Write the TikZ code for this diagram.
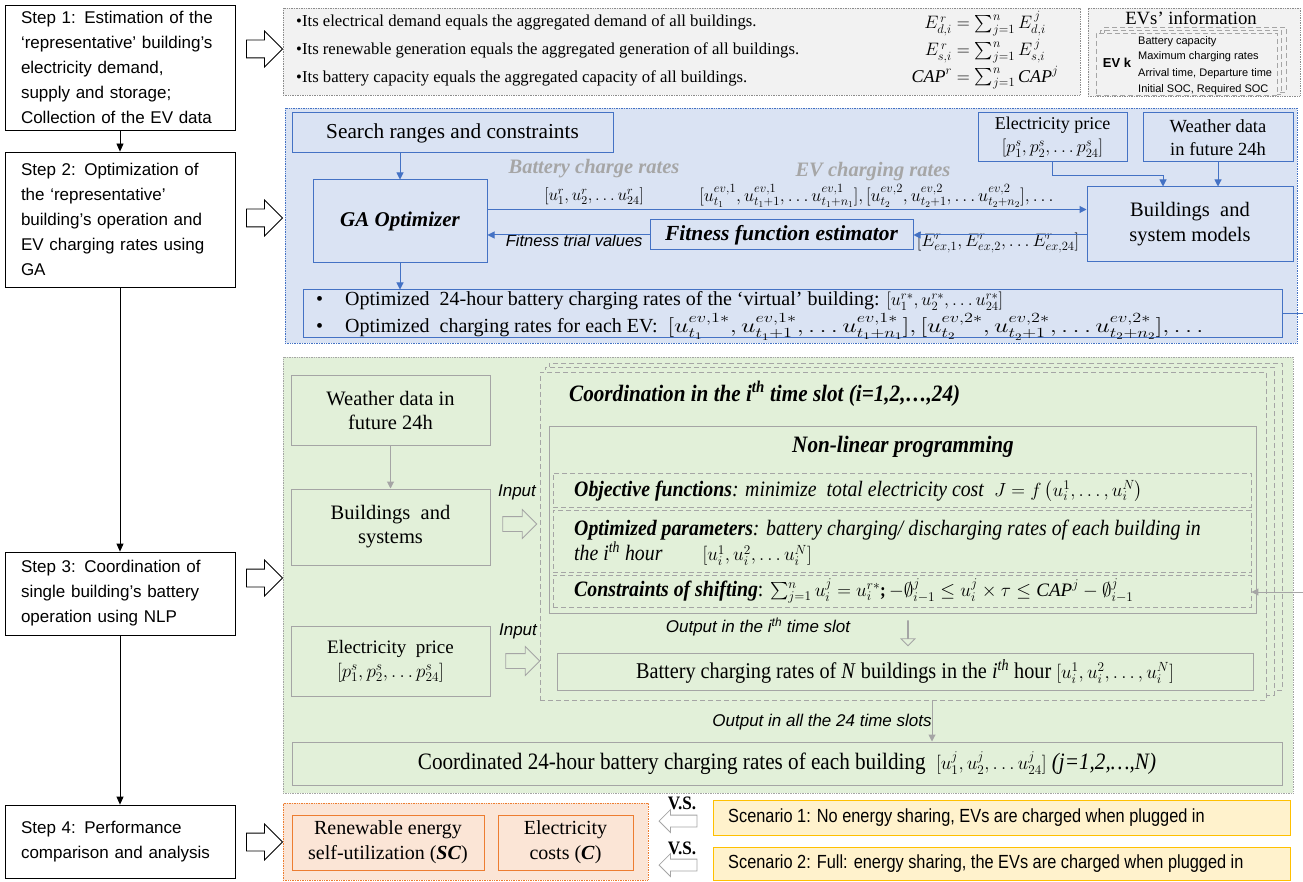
\RequirePackage{fix-cm}
\documentclass[tikz,border=0pt]{standalone}
\usepackage{amsmath}
\usepackage{graphicx}
\usepackage{fontspec}
\setmainfont{Liberation Serif}
\newfontfamily\arial{Liberation Sans}
\newfontfamily\condserif[FakeStretch=0.9]{Liberation Serif}
\newfontfamily\condsans[FakeStretch=0.86]{Liberation Sans}
\usetikzlibrary{arrows.meta,shapes.arrows,calc}
\definecolor{bborder}{HTML}{4472C4}
\definecolor{bfill}{HTML}{DAE3F3}
\definecolor{gfill}{HTML}{E2F0D9}
\definecolor{gborder}{HTML}{A5A5A5}
\definecolor{ofill}{HTML}{FBE5D6}
\definecolor{oborder}{HTML}{ED7D31}
\definecolor{yfill}{HTML}{FFF2CC}
\definecolor{yborder}{HTML}{FFC000}
\definecolor{tfill}{HTML}{F2F2F2}
\definecolor{dotgray}{HTML}{8C8C8C}
\definecolor{lblgray}{HTML}{A6A6A6}
\newcommand\fsz[2]{\fontsize{#1}{#2}\selectfont}
\newcommand\mybox[7]{\node[#2, minimum width={#5-#3}, minimum height={#6-#4}] (#1) at ({(#3+#5)/2},{(#4+#6)/2}) {#7};}
\begin{document}
\begin{tikzpicture}[x=1pt,y=-1pt,
  region/.style={densely dotted, line width=0.7pt},
  stepbox/.style={draw=black, line width=0.8pt, fill=white, align=left, text width=198pt, inner xsep=0pt, font=\arial\fsz{17}{25}},
  bigarrow/.style={single arrow, draw=black, line width=0.8pt, fill=white, minimum height=36pt, inner xsep=0pt, inner ysep=8.5pt, single arrow head extend=9pt},
  hollow/.style={single arrow, draw=gborder, line width=0.8pt, fill=gfill, inner xsep=0pt},
  bluebox/.style={draw=bborder, line width=1pt, fill=bfill, align=center, font=\fsz{19}{24}},
  greenbox/.style={draw=gborder, line width=1pt, fill=gfill, align=center, font=\fsz{19}{24}},
  dashbox/.style={draw=gborder, dash pattern=on 5pt off 3pt, line width=0.9pt},
  orangebox/.style={draw=oborder, line width=1pt, fill=ofill, align=center, font=\fsz{20}{25}},
  yellowbox/.style={draw=yborder, line width=1pt, fill=yfill},
  blk/.style={-{Triangle[length=8pt,width=7pt]}, line width=0.8pt},
  blu/.style={-{Triangle[length=7pt,width=7pt]}, draw=bborder, line width=1pt},
  gry/.style={-{Triangle[length=7pt,width=7pt]}, draw=gborder, line width=1pt},
  txt/.style={inner sep=0pt},
]
\useasboundingbox (0,0) rectangle (1303,882);
% ---------- left column
\mybox{s1}{stepbox}{5}{5}{235}{130}{Step 1: Estimation of the\\‘representative’ building’s\\electricity demand,\\supply and storage;\\Collection of the EV data}
\mybox{s2}{stepbox}{5}{152}{235}{287}{Step 2: Optimization of\\the ‘representative’\\building’s operation and\\EV charging rates using\\GA}
\mybox{s3}{stepbox}{5}{552}{235}{635}{Step 3: Coordination of\\single building’s battery\\operation using NLP}
\mybox{s4}{stepbox}{5}{805}{235}{878}{Step 4: Performance\\comparison and analysis}
\draw[blk] (s1) -- (s2);
\draw[blk] (s2) -- (s3);
\draw[blk] (s3) -- (s4);
\node[bigarrow] (a1) at (260,49) {};
\node[bigarrow] (a2) at (260,218) {};
\node[bigarrow] (a3) at (260,578) {};
\node[bigarrow] (a4) at (260,842) {};
% ---------- step 1 region
\mybox{top}{region, draw=dotgray, fill=tfill}{283}{8}{1080}{95}{}
\node[txt, anchor=west, font=\fsz{16.7}{20}] (b1) at (296,22) {•Its electrical demand equals the aggregated demand of all buildings.};
\node[txt, anchor=west, font=\fsz{16.7}{20}] (b2) at (296,50) {•Its renewable generation equals the aggregated generation of all buildings.};
\node[txt, anchor=west, font=\fsz{16.7}{20}] (b3) at (296,78) {•Its battery capacity equals the aggregated capacity of all buildings.};
\node[txt, font=\fsz{18}{20}] (f1) at (985,24) {$E_{d,i}^{\,r}=\sum_{j=1}^{n}E_{d,i}^{\,j}$};
\node[txt, font=\fsz{18}{20}] (f2) at (985,51) {$E_{s,i}^{\,r}=\sum_{j=1}^{n}E_{s,i}^{\,j}$};
\node[txt, font=\fsz{18}{20}] (f3) at (985,78) {$\mathit{CAP}^{r}=\sum_{j=1}^{n}\mathit{CAP}^{j}$};
\mybox{ev}{region, draw=dotgray, fill=tfill}{1088}{8}{1300}{96}{}
\node[font=\fsz{18.7}{20}] (evt) at (1191,18) {EVs’ information};
\mybox{c3}{dashbox}{1104}{27}{1286}{92}{}
\mybox{c2}{dashbox}{1100}{30}{1281}{94}{}
\mybox{c1}{dashbox, fill=tfill}{1096}{33}{1277}{95}{}
\node[font=\arial\bfseries\fsz{13}{15}] (evk) at (1117,63) {EV k};
\node[txt, anchor=west, font=\arial\fsz{11}{12}] (e1) at (1138,42) {Battery capacity};
\node[txt, anchor=west, font=\arial\fsz{11}{12}] (e2) at (1138,57) {Maximum charging rates};
\node[txt, anchor=west, font=\arial\fsz{11}{12}] (e3) at (1138,74) {Arrival time, Departure time};
\node[txt, anchor=west, font=\arial\fsz{11}{12}] (e4) at (1138,90) {Initial SOC, Required SOC};
% ---------- step 2 region
\mybox{s2r}{region, draw=bborder, fill=bfill}{285}{108}{1297}{343}{}
\mybox{search}{bluebox, font=\fsz{21.3}{24}}{292}{113}{613}{153}{Search ranges and constraints}
\mybox{ga}{bluebox, font=\bfseries\itshape\fsz{21}{24}}{313}{180}{487}{263}{GA Optimizer}
\mybox{fitn}{bluebox, font=\bfseries\itshape\fsz{21.5}{24}}{650}{220}{913}{250}{Fitness function estimator}
\mybox{price}{bluebox, font=\fsz{18}{23}}{978}{113}{1127}{162}{Electricity price\\$[p_1^s,p_2^s,\dots p_{24}^s]$}
\mybox{wth}{bluebox, font=\fsz{18.5}{23}}{1143}{113}{1293}{162}{Weather data\\in future 24h}
\mybox{bld}{bluebox, font=\fsz{20.5}{25}}{1087}{187}{1293}{262}{Buildings\ \ and\\system models}
\mybox{out}{bluebox}{303}{290}{1282}{338}{}
\node[txt, anchor=west, font=\fsz{20}{22}] (o1) at (316,301) {•\hspace{22pt}Optimized\ \ 24-hour battery charging rates of the ‘virtual’ building: {\fsz{18}{22}$[u_1^{r*},u_2^{r*},\dots u_{24}^{r*}]$}};
\node[txt, anchor=west, font=\fsz{20}{22}] (o2) at (316,327) {•\hspace{22pt}Optimized\ \ charging rates for each EV:\ \ {\fsz{20}{22}\scalebox{1.3}[1]{$[u_{t_1}^{ev,1*},u_{t_1+1}^{ev,1*},\dots u_{t_1+n_1}^{ev,1*}],[u_{t_2}^{ev,2*},u_{t_2+1}^{ev,2*},\dots u_{t_2+n_2}^{ev,2*}],\dots$}}};
\node[font=\bfseries\itshape\fsz{20.5}{22}, text=lblgray] (l1) at (594,169) {Battery charge rates};
\node[font=\fsz{17}{20}] (l2) at (594,196) {$[u_1^r,u_2^r,\dots u_{24}^r]$};
\node[font=\bfseries\itshape\fsz{20.5}{22}, text=lblgray] (l3) at (873,172) {EV charging rates};
\node[font=\fsz{18}{20}] (l4) at (878,196) {$[u_{t_1}^{ev,1},u_{t_1+1}^{ev,1},\dots u_{t_1+n_1}^{ev,1}],[u_{t_2}^{ev,2},u_{t_2+1}^{ev,2},\dots u_{t_2+n_2}^{ev,2}],\dots$};
\node[font=\arial\itshape\fsz{16.5}{18}, anchor=east] (l5) at (646,241) {Fitness trial values};
\node[font=\fsz{18}{20}] (l6) at (998,243) {$[E_{ex,1}^r,E_{ex,2}^r,\dots E_{ex,24}^r]$};
\draw[blu] (search.south -| ga.north) -- (ga.north);
\draw[blu] (ga.south) -- (ga.south |- out.north);
\draw[blu] ([yshift=12pt]ga.east) -- ([yshift=12pt]ga.east -| bld.west);
\draw[blu] (fitn.east -| bld.west) -- (fitn.east);
\draw[blu] (fitn.west) -- (fitn.west -| ga.east);
\draw[blu] (price.south) -- ++(0,13) -| ([xshift=-27pt]bld.north);
\draw[blu] (wth.south) -- (wth.south |- bld.north);
\coordinate (exitR) at (1303,314);
\draw[draw=bborder, line width=1pt] (out.east) -- (out.east -| exitR);
% ---------- step 3 region
\mybox{s3r}{region, draw=gborder, fill=gfill}{283}{357}{1293}{793}{}
\mybox{wx}{greenbox, font=\fsz{20.5}{24}}{291}{375}{490}{445}{Weather data in\\future 24h}
\mybox{bs}{greenbox, font=\fsz{20.5}{24}}{291}{489}{490}{565}{Buildings\ \ and\\systems}
\mybox{ep}{greenbox, font=\fsz{19}{24}}{291}{626}{490}{696}{Electricity\ \ price\\$[p_1^s,p_2^s,\dots p_{24}^s]$}
\draw[gry] (wx) -- (bs);
\node[hollow, minimum height=34pt, inner ysep=7pt, single arrow head extend=7pt] (in1) at (516,524) {};
\node[hollow, minimum height=34pt, inner ysep=7pt, single arrow head extend=7pt] (in2) at (519,661) {};
\node[font=\arial\itshape\fsz{17}{18}] (inl1) at (517,492) {Input};
\node[font=\arial\itshape\fsz{17}{18}] (inl2) at (518,631) {Input};
\mybox{k3}{dashbox, fill=gfill}{549}{363}{1282}{690}{}
\mybox{k2}{dashbox, fill=gfill}{545}{367}{1274}{695}{}
\mybox{k1}{dashbox, fill=gfill}{540}{372}{1266}{700}{}
\node[txt, anchor=west, font=\condserif\bfseries\itshape\fsz{23.5}{26}] (coord) at (569,394) {Coordination in the i\textsuperscript{th} time slot (i=1,2,…,24)};
\mybox{nlp}{draw=gborder, line width=1pt}{549}{426}{1256}{613}{}
\node[font=\condserif\bfseries\itshape\fsz{23.5}{26}] (nlpt) at (903,447) {Non-linear programming};
\mybox{obj}{dashbox}{553}{473}{1251}{507}{}
\mybox{opt}{dashbox}{553}{510}{1251}{572}{}
\mybox{con}{dashbox}{553}{575}{1251}{607}{}
\node[txt, anchor=west, font=\condserif\fsz{22}{25}] (objt) at (574,491) {\textbf{\textit{Objective functions}}\textit{: minimize\ \ total electricity cost}\ \ {\fsz{19}{22}$J=f\left(u_i^1,\dots,u_i^N\right)$}};
\node[txt, anchor=west, font=\condserif\fsz{22}{25}] (optt1) at (574,530) {\textbf{\textit{Optimized parameters}}\textit{: battery charging/ discharging rates of each building in}};
\node[txt, anchor=west, font=\condserif\fsz{22}{25}] (optt2) at (574,554) {\textit{the i\textsuperscript{th} hour}\hspace{40pt}{\fsz{19}{22}$[u_i^1,u_i^2,\dots u_i^N]$}};
\node[txt, anchor=west, font=\condserif\fsz{22}{25}] (cont) at (574,591) {\textbf{\textit{Constraints of shifting}}: {\fsz{19}{22}$\sum_{j=1}^{n}u_i^j=u_i^{r*}$\textbf{;}\,$-\emptyset_{i-1}^j\le u_i^j\times\tau\le \mathit{CAP}^j-\emptyset_{i-1}^j$}};
\node[font=\arial\itshape\fsz{17}{18}] (outl) at (758,627) {Output in the i\textsuperscript{th} time slot};
\node[hollow, shape border rotate=270, minimum height=25pt, inner ysep=6.5pt, single arrow head extend=6.5pt] (dn) at (908,633) {};
\mybox{br}{greenbox, font=\condserif\fsz{22.5}{25}}{557}{653}{1253}{690}{Battery charging rates of \textit{N} buildings in the \textit{i}\textsuperscript{\textit{th}} hour {\fsz{19}{22}$[u_i^1,u_i^2,\dots,u_i^N]$}}
\mybox{cb}{greenbox, font=\condserif\fsz{23.5}{25}}{292}{742}{1282}{785}{Coordinated 24-hour battery charging rates of each building\ \ {\fsz{19}{22}$[u_1^j,u_2^j,\dots u_{24}^j]$} \textit{(j=1,2,…,N)}}
\draw[gry] ([xshift=29pt]k1.south) -- ([xshift=29pt]k1.south |- cb.north);
\node[font=\arial\itshape\fsz{17}{18}] (outl2) at (822,722) {Output in all the 24 time slots};
\coordinate (entryR) at (1303,592);
\draw[gry] (entryR) -- (entryR -| con.east);
% ---------- step 4 region
\mybox{s4r}{region, draw=oborder, fill=ofill}{283}{803}{648}{880}{}
\mybox{sc}{orangebox}{292}{815}{484}{870}{Renewable energy\\self-utilization (\textbf{\textit{SC}})}
\mybox{cc}{orangebox}{498}{815}{633}{870}{Electricity\\costs (\textbf{\textit{C}})}
\mybox{sn1}{yellowbox}{713}{800}{1290}{835}{}
\mybox{sn2}{yellowbox}{713}{847}{1290}{880}{}
\node[txt, anchor=west, font=\condsans\fsz{19}{20}] (sn1t) at (728,818) {Scenario 1: No energy sharing, EVs are charged when plugged in};
\node[txt, anchor=west, font=\condsans\fsz{19}{20}] (sn2t) at (728,864) {Scenario 2: Full: energy sharing, the EVs are charged when plugged in};
\node[hollow, fill=white, shape border rotate=180, minimum height=38pt, inner ysep=5.5pt, single arrow head extend=5.5pt] (vs1a) at (681,821) {};
\node[hollow, fill=white, shape border rotate=180, minimum height=38pt, inner ysep=5.5pt, single arrow head extend=5.5pt] (vs2a) at (681,865) {};
\node[font=\condserif\bfseries\fsz{19}{20}] (vs1) at (682,803) {V.S.};
\node[font=\condserif\bfseries\fsz{19}{20}] (vs2) at (682,848) {V.S.};
\end{tikzpicture}
\end{document}
